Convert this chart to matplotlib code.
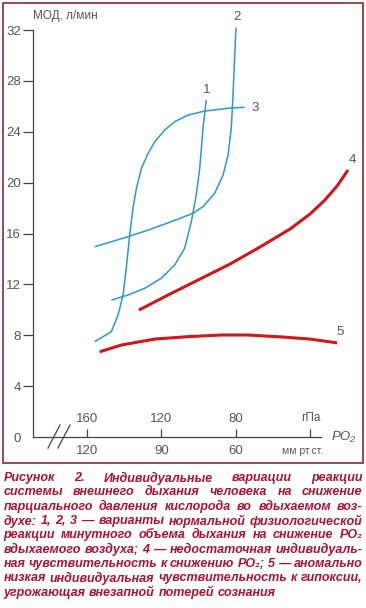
import matplotlib
matplotlib.use("Agg")
import matplotlib.pyplot as plt
from matplotlib.patches import Rectangle
from matplotlib.lines import Line2D

plt.rcParams['font.family'] = ['Liberation Sans', 'DejaVu Sans']

# PO2 in mm Hg (x) vs minute ventilation, l/min (y)
c1_x = [110.2, 103.5, 96.8, 90.1, 84.7, 80.7, 78.0, 76.0, 74.6, 73.3, 72.0]
c1_y = [10.77, 11.16, 11.69, 12.48, 13.52, 14.83, 16.93, 19.03, 21.12, 24.27, 26.49]

c2_x = [116.9, 103.5, 95.4, 86.05, 77.3, 73.3, 68.6, 65.2, 63.2, 61.9, 61.2, 60.6, 60.0]
c2_y = [14.96, 15.75, 16.27, 16.93, 17.59, 18.11, 19.16, 20.6, 22.17, 24.27, 26.89, 29.64, 32.2]

c3_x = [116.9, 110.2, 107.5, 105.5, 104.2, 102.8, 101.5, 100.1, 98.1, 95.4, 92.7,
        88.7, 84.7, 79.3, 72.6, 62.0, 56.5]
c3_y = [7.49, 8.28, 9.59, 11.16, 13.26, 15.88, 17.98, 19.55, 21.12, 22.3, 23.22,
        24.14, 24.79, 25.31, 25.63, 25.87, 25.92]

c4_x = [99.1, 86.6, 74.5, 62.4, 50.3, 38.25, 30.2, 24.2, 19.3, 14.9]
c4_y = [9.98, 11.24, 12.42, 13.6, 14.94, 16.35, 17.53, 18.63, 19.73, 20.99]

c5_x = [114.9, 106.2, 92.7, 79.3, 65.9, 55.2, 41.1, 30.2, 19.3]
c5_y = [6.7, 7.23, 7.7, 7.89, 8.02, 8.02, 7.86, 7.7, 7.4]

labels = ['1', '2', '3', '4', '5']
label_x = [71.7, 59.6, 52.4, 13.3, 18.1]
label_y = [27.3, 33.0, 25.9, 21.8, 8.25]

yticks = [0, 4, 8, 12, 16, 20, 24, 28, 32]
mmhg_ticks = [120, 90, 60, 30]
mmhg_labels = ['120', '90', '60', '']
hpa_labels = ['160', '120', '80', 'гПа']

caption = [
    "Рисунок 2. Индивидуальные вариации реакции",
    "системы внешнего дыхания человека на снижение",
    "парциального давления кислорода во вдыхаемом воз-",
    "духе: 1, 2, 3 — варианты нормальной физиологической",
    "реакции минутного объема дыхания на снижение PO₂",
    "вдыхаемого воздуха; 4 — недостаточная индивидуаль-",
    "ная чувствительность к снижению PO₂; 5 — аномально",
    "низкая индивидуальная чувствительность к гипоксии,",
    "угрожающая внезапной потерей сознания",
]

W, H = 366, 608
fig = plt.figure(figsize=(W / 100, H / 100), dpi=100)

blue = '#2b98d6'
red = '#d2161b'
grey = '#555555'
axc = '#444444'

ax = fig.add_axes([33 / W, 1 - 437 / H, (360 - 33) / W, (437 - 15) / H])
ax.set_xlim(141.75, 10.05)
ax.set_ylim(0, 33.18)

for xs, ys in [(c1_x, c1_y), (c2_x, c2_y), (c3_x, c3_y)]:
    ax.plot(xs, ys, color=blue, lw=1.1, solid_capstyle='butt', solid_joinstyle='round')
for xs, ys in [(c4_x, c4_y), (c5_x, c5_y)]:
    ax.plot(xs, ys, color=red, lw=2.2, solid_capstyle='butt', solid_joinstyle='round')

for lab, x, y in zip(labels, label_x, label_y):
    ax.text(x, y, lab, ha='center', va='center', fontsize=9.5, color=grey, clip_on=False)

ax.spines['top'].set_visible(False)
ax.spines['right'].set_visible(False)
ax.spines['left'].set_bounds(0, 32)
ax.spines['bottom'].set_bounds(25.7, 141.75)
for s in ['left', 'bottom']:
    ax.spines[s].set_color(axc)
    ax.spines[s].set_linewidth(0.9)

ax.set_yticks(yticks)
ax.tick_params(axis='y', length=7, width=0.9, pad=1.5, labelsize=9.5,
               color=axc, labelcolor=grey)
ax.yaxis.get_major_ticks()[0].tick1line.set_visible(False)

ax.set_xticks(mmhg_ticks)
ax.set_xticklabels(mmhg_labels)
ax.tick_params(axis='x', direction='in', length=6, width=0.9, pad=6, labelsize=9.5,
               color=axc, labelcolor=grey)

for x, lab in zip(mmhg_ticks, hpa_labels):
    dy = 13 if lab != 'гПа' else 14
    ax.annotate(lab, xy=(x, 0), xytext=(0, dy), textcoords='offset points',
                ha='center', va='center', fontsize=9.5 if lab != 'гПа' else 8.5,
                color=grey, annotation_clip=False)

ax.annotate('мм рт.ст.', xy=(33.0, 0), xytext=(0, -10), textcoords='offset points',
            ha='center', va='center', fontsize=7.5, color=grey, annotation_clip=False)
ax.annotate('PO₂', xy=(21.3, 0), xytext=(0, 0), textcoords='offset points',
            ha='left', va='center', fontsize=9.5, style='italic', color=grey,
            annotation_clip=False)

# axis break marks
for x0 in (48, 58):
    fig.add_artist(Line2D([x0 / W, (x0 + 12) / W], [1 - 448 / H, 1 - 425 / H],
                          color=axc, lw=0.9))

fig.text(33 / W, 1 - 16 / H, 'МОД, л/мин', ha='left', va='center', fontsize=8.5, color=grey)

# frame
fig.add_artist(Rectangle((3 / W, 1 - 463 / H), 360 / W, 460 / H, transform=fig.transFigure,
                         fill=False, edgecolor='#8b2636', lw=1.2))

# justified caption: pick the largest size at which every line fits
renderer = fig.canvas.get_renderer()
cap_kw = dict(fontweight='bold', style='italic', color='#ad1230', va='center', ha='left')
left, right = 3.5, 362.5
span = right - left
min_gap = 3.2
s0 = 10.0
size = 99
for line in caption:
    words = line.split(' ')
    tmp = [fig.text(0, 0, w, fontsize=s0, **cap_kw) for w in words]
    tot = sum(t.get_window_extent(renderer).width for t in tmp)
    for t in tmp:
        t.remove()
    size = min(size, s0 * (span - min_gap * (len(words) - 1)) / tot)

y0, dy = 478, 14.35
for i, line in enumerate(caption):
    yf = 1 - (y0 + i * dy) / H
    words = line.split(' ')
    arts = [fig.text(0, yf, w, fontsize=size, **cap_kw) for w in words]
    widths = [a.get_window_extent(renderer).width for a in arts]
    if i < len(caption) - 1 and len(words) > 1:
        gap = (span - sum(widths)) / (len(words) - 1)
    else:
        gap = size * 100 / 72 * 0.3
    x = left
    for a, w in zip(arts, widths):
        a.set_x(x / W)
        x += w + gap

fig.savefig('out.png', dpi=100)
